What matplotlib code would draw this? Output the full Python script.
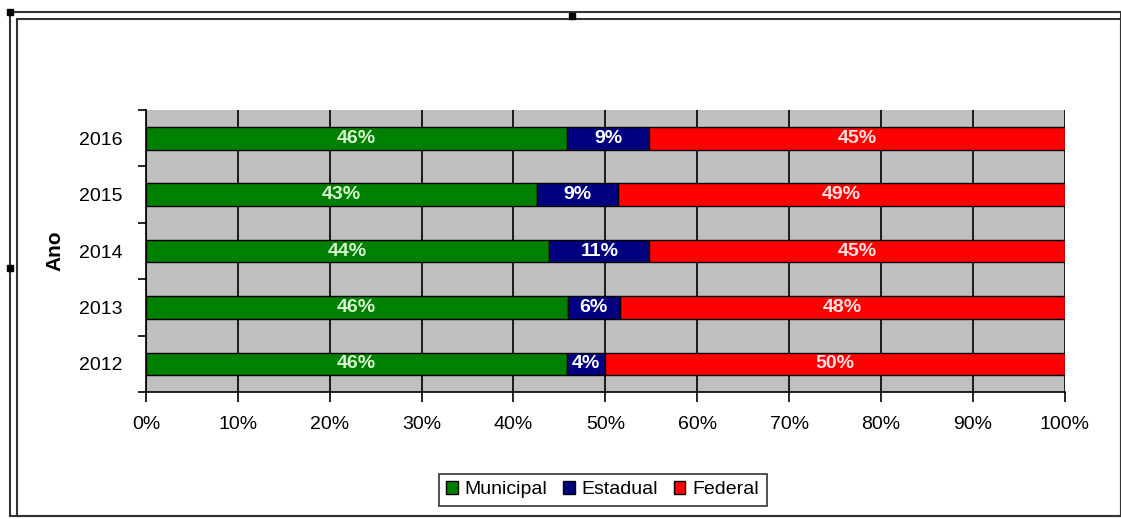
import matplotlib
matplotlib.use("Agg")
import matplotlib.pyplot as plt
from matplotlib.patches import Rectangle

# data (percent of each year)
years = ["2012", "2013", "2014", "2015", "2016"]
municipal = [45.8, 45.9, 43.9, 42.6, 45.8]
estadual = [4.2, 5.7, 10.9, 8.8, 9.0]
federal = [50.0, 48.4, 45.2, 48.6, 45.2]
series_names = ["Municipal", "Estadual", "Federal"]
colours = ["#008000", "#000080", "#FF0000"]
label_colours = ["#d8f5d0", "white", "#ffe0e0"]
xticks = list(range(0, 101, 10))

plt.rcParams['font.family'] = ['Liberation Sans', 'DejaVu Sans']

fig = plt.figure(figsize=(11.21, 5.19), dpi=100)
ax = fig.add_axes([0.1302, 0.2447, 0.8196, 0.5433])
ax.set_facecolor("#C0C0C0")

pos = list(range(len(years)))
left = [0.0] * len(years)
for vals, name, col, lcol in zip([municipal, estadual, federal], series_names, colours, label_colours):
    ax.barh(pos, vals, left=left, height=0.4, color=col, edgecolor="black",
            linewidth=1, label=name, zorder=3)
    for i, v in enumerate(vals):
        ax.text(left[i] + v / 2, pos[i], f"{v:.0f}%", ha="center", va="center",
                color=lcol, fontsize=14, fontweight="bold", zorder=4,
                family=['Liberation Sans Narrow', 'Liberation Sans', 'DejaVu Sans'])
    left = [a + b for a, b in zip(left, vals)]

ax.set_xlim(0, 100)
ax.set_ylim(-0.5, len(years) - 0.5)
ax.set_xticks(xticks)
ax.set_xticklabels([f"{t}%" for t in xticks], fontsize=14)
ax.set_yticks(pos)
ax.set_yticklabels(years, fontsize=14)
ax.set_yticks([p + 0.5 for p in pos[:-1]] + [-0.5, len(years) - 0.5], minor=True)
ax.tick_params(axis="y", which="major", length=0, pad=17)
ax.tick_params(axis="y", which="minor", length=6, width=1.2, color="black")
ax.tick_params(axis="x", length=7, width=1.2, pad=10)
ax.grid(axis="x", color="black", linewidth=1.2, zorder=1)
ax.set_axisbelow(True)
for side in ["top", "right"]:
    ax.spines[side].set_visible(False)
ax.spines["left"].set_linewidth(1.2)
ax.spines["bottom"].set_linewidth(1.2)
ax.set_ylabel("Ano", fontsize=15, fontweight="bold", labelpad=10)

leg = ax.legend(loc="upper center", bbox_to_anchor=(0.497, -0.255), ncol=3,
                frameon=True, fancybox=False, edgecolor="black", fontsize=14,
                handlelength=0.6, handleheight=0.6, handletextpad=0.35,
                columnspacing=0.8, borderpad=0.4)
leg.get_frame().set_linewidth(1.2)

# double frame around the chart object
W, H = 1121, 519
for x0, y0, x1, y1 in [(10, 12, 1121, 516), (17, 19, 1121, 516)]:
    fig.add_artist(Rectangle((x0 / W, 1 - y1 / H), (x1 - x0) / W, (y1 - y0) / H,
                             transform=fig.transFigure, fill=False,
                             edgecolor="#333333", linewidth=1.5))
for hx, hy in [(10, 12), (572, 16), (10, 268)]:
    fig.add_artist(Rectangle((hx / W - 0.003, 1 - hy / H - 0.006), 0.006, 0.012,
                             transform=fig.transFigure, color="black"))

fig.savefig("out.png", dpi=100)
